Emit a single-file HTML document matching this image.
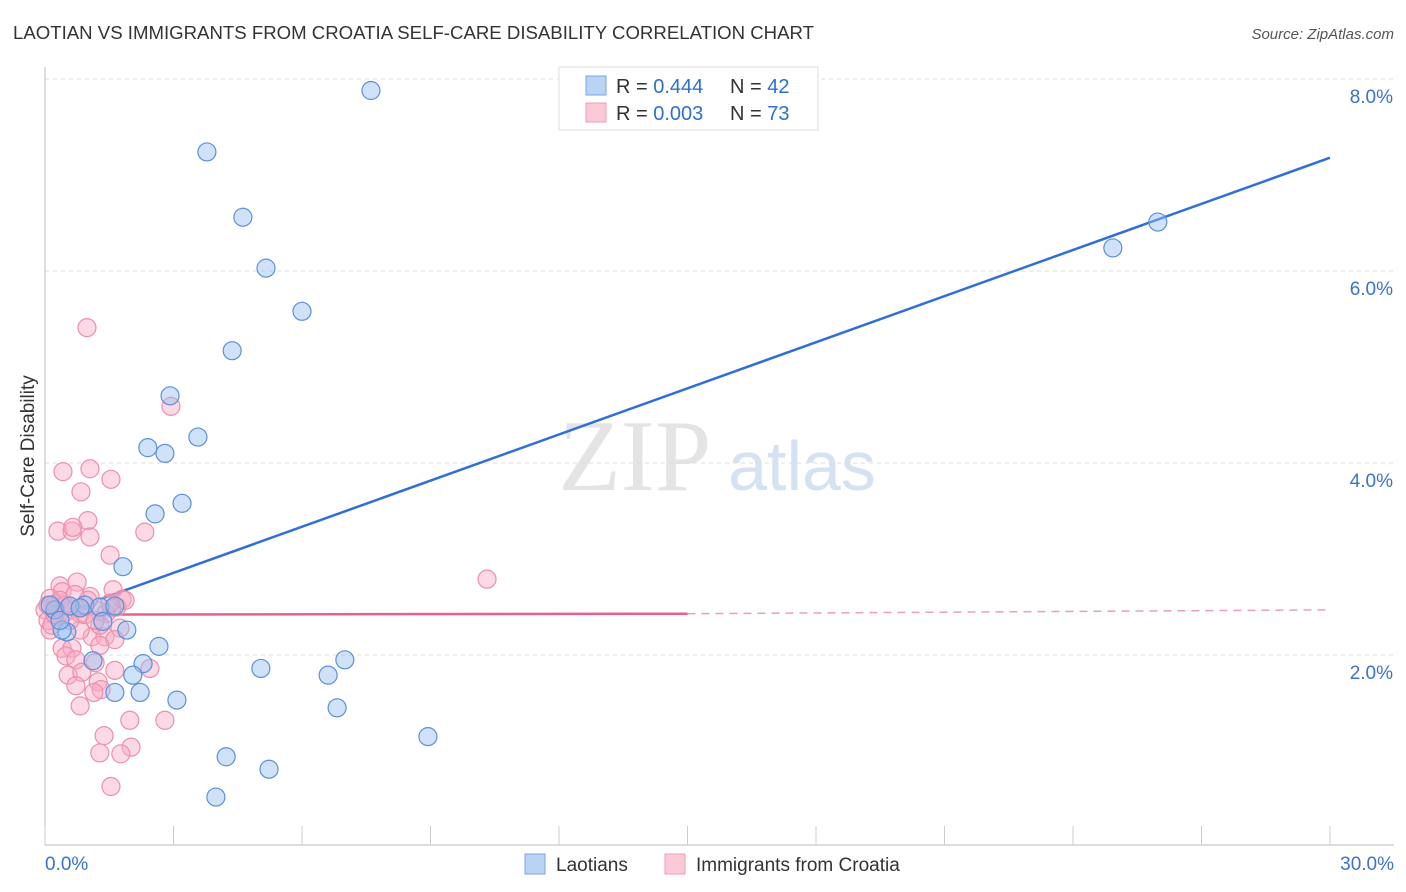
<!DOCTYPE html>
<html><head><meta charset="utf-8"><style>
body{margin:0;background:#fff;font-family:"Liberation Sans",sans-serif;}
svg{display:block}
</style></head><body>
<svg id="chart" width="1406" height="892" viewBox="0 0 1406 892">
<text x="13" y="39" font-size="18" fill="#333" textLength="801" lengthAdjust="spacingAndGlyphs">LAOTIAN VS IMMIGRANTS FROM CROATIA SELF-CARE DISABILITY CORRELATION CHART</text>
<text x="1394" y="39" font-size="15" fill="#555" font-style="italic" text-anchor="end">Source: ZipAtlas.com</text>
<text x="34" y="456" font-size="19" fill="#333" text-anchor="middle" transform="rotate(-90 34 456)">Self-Care Disability</text>
<g><text x="635" y="490" font-size="102" fill="#e4e4e4" font-family="Liberation Serif,serif" text-anchor="middle">ZIP</text><text x="802" y="490" font-size="70" fill="#d4e2f4" text-anchor="middle">atlas</text></g>
<g id="grid"></g><g id="axes"></g><g id="lines"></g><g id="pts"></g>
<g>
<rect x="559" y="67" width="259" height="63" fill="#fff" stroke="#ddd"/>
<rect x="586" y="76" width="20" height="19" fill="#b9d3f5" stroke="#7aa6e0"/>
<rect x="586" y="103" width="20" height="19" fill="#fcc9d7" stroke="#f09ab4"/>
<text x="616" y="93" font-size="20" fill="#333">R = <tspan fill="#2f6fd0">0.444</tspan></text>
<text x="730" y="93" font-size="20" fill="#333">N = <tspan fill="#2f6fd0">42</tspan></text>
<text x="616" y="120" font-size="20" fill="#333">R = <tspan fill="#2f6fd0">0.003</tspan></text>
<text x="730" y="120" font-size="20" fill="#333">N = <tspan fill="#2f6fd0">73</tspan></text>
</g>
<g>
<rect x="525" y="854" width="20" height="20" fill="#b9d3f5" stroke="#7aa6e0"/>
<text x="556" y="871" font-size="19" fill="#333">Laotians</text>
<rect x="665" y="854" width="20" height="20" fill="#fcc9d7" stroke="#f09ab4"/>
<text x="696" y="871" font-size="19" fill="#333">Immigrants from Croatia</text>
</g>
</svg>
<script>
const xTicks=[0,3,6,9,12,15,18,21,24,27,30];
const yTicks=[2,4,6,8];
const yTickLabels=["2.0%","4.0%","6.0%","8.0%"];
const xEndLabels=["0.0%","30.0%"];
const blueX=[7.61,3.78,4.62,5.16,6.00,4.37,2.92,3.57,2.40,2.80,3.20,2.57,1.82,24.93,25.98,0.93,1.28,1.63,1.35,1.91,0.51,0.40,2.66,2.29,1.12,2.05,5.04,6.61,7.00,1.63,2.22,3.08,6.82,8.94,4.23,5.23,3.99,0.23,0.35,0.12,0.58,0.82];
const blueY=[7.88,7.24,6.56,6.03,5.58,5.17,4.70,4.27,4.16,4.10,3.58,3.47,2.92,6.24,6.51,2.52,2.50,2.51,2.35,2.26,2.24,2.26,2.09,1.91,1.94,1.79,1.86,1.79,1.95,1.61,1.61,1.53,1.45,1.15,0.94,0.81,0.52,2.47,2.36,2.52,2.51,2.49];
const pinkX=[0.98,2.94,0.42,1.05,1.54,0.84,0.30,0.63,1.00,0.65,1.05,2.33,1.52,10.32,0.35,0.75,0.40,0.12,1.05,1.59,1.80,1.68,1.56,0.23,0,0.07,0.12,0.30,0.49,0.63,0.82,1.24,1.42,1.75,1.10,1.40,1.63,0.40,0.63,1.28,0.49,0.72,1.17,0.54,0.86,1.24,1.63,2.45,0.72,1.31,1.14,0.82,1.98,2.80,1.38,1.28,2.01,1.77,1.54,0.82,0.16,0.35,1.00,0.58,0.23,0.07,0.93,1.28,1.87,0.47,0.70,1.17,1.52];
const pinkY=[5.41,4.59,3.91,3.94,3.83,3.70,3.29,3.29,3.40,3.33,3.23,3.28,3.04,2.79,2.72,2.76,2.66,2.59,2.61,2.68,2.58,2.50,2.49,2.53,2.47,2.36,2.26,2.41,2.45,2.48,2.43,2.46,2.43,2.28,2.19,2.19,2.16,2.07,2.07,2.10,1.99,1.95,1.92,1.79,1.82,1.72,1.84,1.86,1.68,1.64,1.61,1.47,1.32,1.32,1.16,0.98,1.04,0.97,0.63,2.26,2.31,2.57,2.57,2.36,2.42,2.52,2.42,2.31,2.57,2.52,2.63,2.36,2.54];
const blueLine=[[1.28,2.58],[30,7.18]];
const pinkLine=[[0,2.42],[15,2.43],[30,2.47]];
const X=v=>45+v/30*1285, Y=v=>847-v*96;
const NS="http://www.w3.org/2000/svg";
function mk(t,a,p){const e=document.createElementNS(NS,t);for(const k in a)e.setAttribute(k,a[k]);document.getElementById(p).appendChild(e);return e;}
yTicks.forEach((t,i)=>{
 const g=mk('line',{x1:45,x2:1394,y1:Y(t),y2:Y(t),stroke:'#ddd','stroke-dasharray':'4,4'},'grid');
 
 
 const l=mk('text',{x:1393,y:Y(t)+24,'font-size':19,fill:'#3b73c9','text-anchor':'end'},'axes');l.textContent=yTickLabels[i];
 
 
});
mk('line',{x1:45,x2:1394,y1:845,y2:845,stroke:'#bbb'},'axes');
mk('line',{x1:45,x2:45,y1:67,y2:845,stroke:'#bbb'},'axes');
xTicks.forEach(t=>{const e=mk('line',{x1:X(t),x2:X(t),y1:826,y2:845,stroke:'#ccc'},'axes');
 
 });
[[0,'start'],[30,'end']].forEach((p,i)=>{const e=mk('text',{x:i?1394:45,y:870,'font-size':19,fill:'#3b73c9','text-anchor':p[1]},'axes');e.textContent=xEndLabels[i];
 
 });
function pts(xs,ys,fill,stroke,name){xs.forEach((x,i)=>{const c=mk('circle',{cx:X(x),cy:Y(ys[i]),r:9,fill:fill,stroke:stroke,'stroke-width':1.2},'pts');
 
 });}
pts(pinkX,pinkY,'rgba(248,170,195,0.45)','#ec8fac','point-croatia');
pts(blueX,blueY,'rgba(150,190,240,0.45)','#5b8fdb','point-laotians');
const bl=mk('line',{x1:X(blueLine[0][0]),y1:Y(blueLine[0][1]),x2:X(blueLine[1][0]),y2:Y(blueLine[1][1]),stroke:'#2f6fd6','stroke-width':2.5},'lines');


const pl=mk('line',{x1:X(pinkLine[0][0]),y1:Y(pinkLine[0][1]),x2:X(pinkLine[1][0]),y2:Y(pinkLine[1][1]),stroke:'#e8608c','stroke-width':2.5},'lines');


const pd=mk('line',{x1:X(pinkLine[1][0]),y1:Y(pinkLine[1][1]),x2:X(pinkLine[2][0]),y2:Y(pinkLine[2][1]),stroke:'#e8a0b8','stroke-width':1.5,'stroke-dasharray':'8,6'},'lines');


</script>
</body></html>
